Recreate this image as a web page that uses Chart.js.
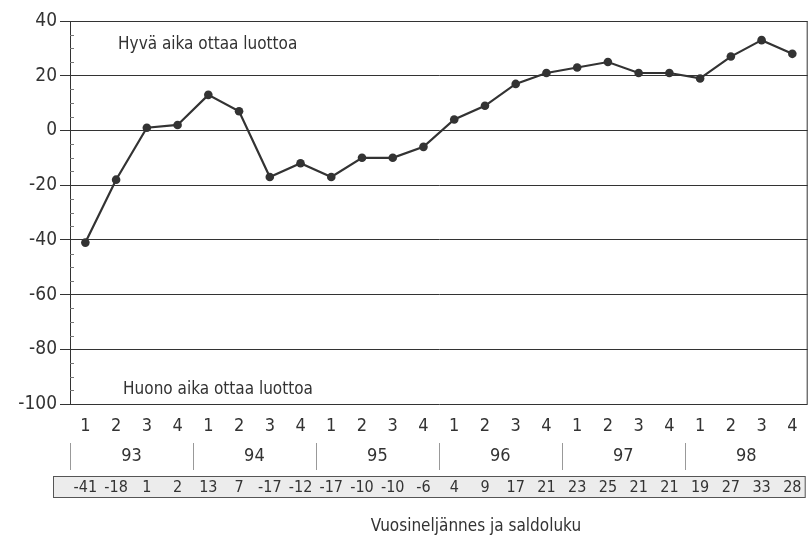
<!DOCTYPE html>
<html>
<head>
<meta charset="utf-8">
<script src="https://cdn.jsdelivr.net/npm/chart.js@4"></script>
<style>
  html, body { margin: 0; padding: 0; background: #fff; }
  #wrap { width: 812px; height: 542px; }
</style>
</head>
<body>
<div id="wrap"><canvas id="saldoChart" width="812" height="542"></canvas></div>
<script>
const years = ["93", "94", "95", "96", "97", "98"];
const quarters = ["1", "2", "3", "4"];
const saldo = [-41, -18, 1, 2, 13, 7, -17, -12, -17, -10, -10, -6, 4, 9, 17, 21, 23, 25, 21, 21, 19, 27, 33, 28];
const yTicks = [40, 20, 0, -20, -40, -60, -80, -100];

const FONT = "'Liberation Sans Narrow', 'Arial Narrow', 'DejaVu Sans Condensed', sans-serif";
const INK = "#333";

const labels = [];
years.forEach(y => quarters.forEach(q => labels.push(q)));

// frame, minor ticks, notes, year row and value table
const extras = {
  id: "extras",
  afterDraw(chart) {
    const { ctx, chartArea: a, scales: { x, y } } = chart;
    ctx.save();
    ctx.strokeStyle = INK;
    ctx.lineWidth = 1;
    ctx.beginPath();
    ctx.moveTo(a.left, a.top + 0.5);
    ctx.lineTo(a.right - 0.5, a.top + 0.5);
    ctx.lineTo(a.right - 0.5, a.bottom);
    ctx.stroke();

    // minor ticks every 5
    ctx.strokeStyle = "#777";
    for (let v = -95; v < 40; v += 5) {
      if (v % 20 === 0) continue;
      const py = Math.round(y.getPixelForValue(v)) + 0.5;
      ctx.beginPath();
      ctx.moveTo(a.left, py);
      ctx.lineTo(a.left + 4, py);
      ctx.stroke();
    }

    ctx.fillStyle = INK;
    ctx.font = "17px " + FONT;
    ctx.textBaseline = "middle";
    ctx.textAlign = "left";
    ctx.fillText("Hyvä aika ottaa luottoa", x.getPixelForValue(1) + 2, y.getPixelForValue(31.5));
    ctx.fillText("Huono aika ottaa luottoa", x.getPixelForValue(1) + 7, y.getPixelForValue(-94.8));

    const step = x.getPixelForValue(1) - x.getPixelForValue(0);
    const yearY = 456;
    ctx.textAlign = "center";
    ctx.font = "18px " + FONT;
    ctx.strokeStyle = "#999";
    years.forEach((yr, i) => {
      const left = x.getPixelForValue(i * 4) - step / 2;
      const mid = (x.getPixelForValue(i * 4 + 1) + x.getPixelForValue(i * 4 + 2)) / 2;
      ctx.fillText(yr, mid, yearY);
      const sx = Math.round(left) + 0.5;
      ctx.beginPath();
      ctx.moveTo(sx, 443);
      ctx.lineTo(sx, 470);
      ctx.stroke();
    });

    // value table
    const top = 476, h = 21;
    ctx.fillStyle = "#ececec";
    ctx.fillRect(53, top, a.right - 53 - 2, h);
    ctx.strokeStyle = "#555";
    ctx.strokeRect(53.5, top + 0.5, a.right - 53 - 3, h);
    ctx.fillStyle = INK;
    ctx.font = "16px " + FONT;
    saldo.forEach((v, i) => {
      ctx.fillText(String(v), x.getPixelForValue(i), top + h / 2 + 1);
    });

    ctx.font = "17px " + FONT;
    ctx.fillText("Vuosineljännes ja saldoluku", 476, 527);
    ctx.restore();
  }
};

new Chart(document.getElementById("saldoChart"), {
  type: "line",
  data: {
    labels: labels,
    datasets: [{
      data: saldo,
      borderColor: INK,
      backgroundColor: INK,
      borderWidth: 2.2,
      pointRadius: 4.3,
      pointHoverRadius: 4.3,
      pointBackgroundColor: INK,
      pointBorderWidth: 0,
      tension: 0
    }]
  },
  options: {
    responsive: false,
    animation: false,
    layout: { padding: { top: 21, right: 3, left: 0, bottom: 0 } },
    plugins: { legend: { display: false }, tooltip: { enabled: false } },
    scales: {
      x: {
        offset: true,
        grid: { display: false },
        border: { display: false },
        ticks: {
          color: INK,
          font: { family: FONT, size: 18 },
          padding: 4,
          maxRotation: 0,
          autoSkip: false
        },
        afterFit(scale) { scale.height = 138; }
      },
      y: {
        min: -100,
        max: 40,
        afterBuildTicks(scale) {
          scale.ticks = yTicks.map(v => ({ value: v }));
        },
        grid: {
          color: INK,
          lineWidth: 1,
          tickLength: 10,
          drawTicks: true
        },
        border: { display: true, color: INK, width: 1 },
        ticks: {
          color: INK,
          font: { family: FONT, size: 19 },
          padding: 3
        },
        afterFit(scale) { scale.width = 70; }
      }
    }
  },
  plugins: [extras]
});
</script>
</body>
</html>
